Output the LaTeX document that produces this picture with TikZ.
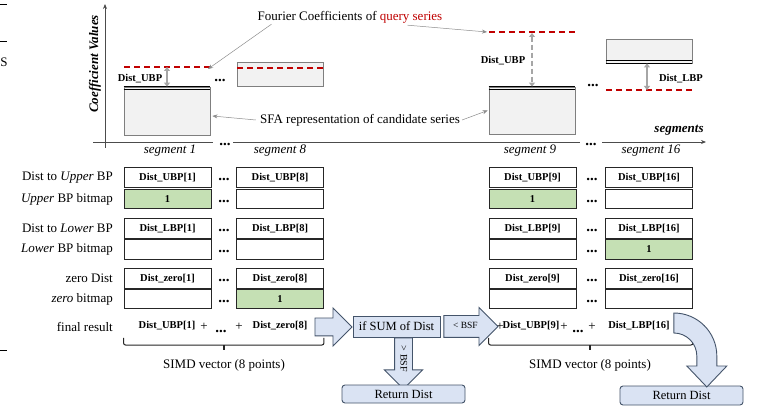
\documentclass[tikz,border=0pt]{standalone}
\usepackage{fontspec}
\setmainfont{Liberation Serif}
\usetikzlibrary{shapes.arrows,arrows.meta,calc}
\definecolor{qred}{HTML}{C00000}
\definecolor{sfafill}{HTML}{F2F2F2}
\definecolor{sfaedge}{HTML}{7F7F7F}
\definecolor{bitgreen}{HTML}{C5E0B4}
\definecolor{blfill}{HTML}{DAE3F3}
\definecolor{bledge}{HTML}{44546A}
\definecolor{arrgray}{HTML}{A6A6A6}
\begin{document}
\begin{tikzpicture}[x=1pt,y=-1pt,
  every node/.style={inner sep=0pt},
  lbl/.style={font=\fontsize{13}{15}\selectfont},
  rowlbl/.style={lbl, anchor=east},
  seglbl/.style={font=\fontsize{13}{15}\selectfont\itshape},
  cell/.style={draw=black!85, line width=0.9pt, minimum width=87pt, minimum height=19.5pt, font=\fontsize{10.5}{12}\selectfont\bfseries},
  bitcell/.style={cell, fill=bitgreen},
  dotsl/.style={font=\fontsize{15}{16}\selectfont\bfseries, anchor=base},
  small/.style={font=\fontsize{10.5}{12}\selectfont\bfseries},
  sfa/.style={draw=sfaedge, fill=sfafill, line width=0.8pt, minimum width=86pt},
  qline/.style={qred, dash pattern=on 6pt off 4pt, line width=1.6pt},
  gaparr/.style={arrgray, line width=1.6pt, {Triangle[length=4pt,width=6pt]}-{Triangle[length=4pt,width=6pt]}},
  callout/.style={black!45, line width=0.5pt, -{Stealth[length=5pt,width=4pt]}},
  axisln/.style={black!70, line width=0.8pt},
  bluebox/.style={draw=bledge, fill=blfill, line width=0.9pt},
  bracel/.style={black!85, line width=1pt, rounded corners=2pt}
]
\fill[white] (0,0) rectangle (761,406);
\useasboundingbox (0,0) rectangle (761,406);

% stray page fragments at left edge
\draw[line width=1pt] (0,5) -- (7,5);
\draw[line width=1pt] (0,42) -- (7,42);
\draw[line width=1pt] (0,350) -- (7,350);
\node[lbl] (sfrag) at (4,62) {S};

% ---------- axes ----------
\coordinate (yo) at (105,148);
\coordinate (yt) at (105,4);
\draw[axisln, -{Stealth[length=5pt,width=4pt]}] (yo) -- (yt);
\coordinate (xa) at (93,142);
\coordinate (xb) at (213,142);
\coordinate (xc) at (233,142);
\coordinate (xd) at (580,142);
\coordinate (xe) at (602,142);
\coordinate (xf) at (706,142);
\draw[axisln] (xa) -- (xb);
\draw[axisln] (xc) -- (xd);
\draw[axisln, -{Stealth[length=5pt,width=4pt]}] (xe) -- (xf);
\node[dotsl] (ad1) at (225,146) {...};
\node[dotsl] (ad2) at (591,146) {...};
\node[font=\fontsize{13}{15}\selectfont\bfseries\itshape, rotate=90] (ylab) at (95,64) {Coefficient Values};
\node[font=\fontsize{13}{15}\selectfont\bfseries\itshape] (xlab) at (679,130) {segments};
\node[seglbl] (sg1) at (170,151) {segment 1};
\node[seglbl] (sg8) at (280,151) {segment 8};
\node[seglbl] (sg9) at (530,151) {segment 9};
\node[seglbl] (sg16) at (651,151) {segment 16};

% ---------- SFA boxes ----------
\node[sfa, minimum height=48pt] (s1) at (167,111) {};
\node[sfa, minimum height=24pt] (s8) at (280,74) {};
\node[sfa, minimum height=47pt] (s9) at (532,110.5) {};
\node[sfa, minimum height=24pt] (s16) at (649,51) {};
\draw[black, line width=1.3pt] (s1.north west) -- (s1.north east);
\draw[black, line width=0.7pt] ([yshift=-2.8pt]s1.north west) -- ([yshift=-2.8pt]s1.north east);
\draw[black, line width=1.3pt] (s9.north west) -- (s9.north east);
\draw[black, line width=0.7pt] ([yshift=-2.8pt]s9.north west) -- ([yshift=-2.8pt]s9.north east);
\draw[black, line width=1.3pt] (s16.south west) -- (s16.south east);
\draw[black, line width=0.7pt] ([yshift=2.8pt]s16.south west) -- ([yshift=2.8pt]s16.south east);

% query coefficient lines
\coordinate (q1a) at (124,67); \coordinate (q1b) at (210,67);
\coordinate (q8a) at (237,68); \coordinate (q8b) at (323,68);
\coordinate (q9a) at (489,32); \coordinate (q9b) at (575,32);
\coordinate (q16a) at (606,90); \coordinate (q16b) at (692,90);
\draw[qline] (q1a) -- (q1b);
\draw[qline] (q8a) -- (q8b);
\draw[qline] (q9a) -- (q9b);
\draw[qline] (q16a) -- (q16b);

% distance arrows
\coordinate (u1) at (167,67);
\draw[gaparr] (u1) -- (u1 |- s1.north);
\node[small] (du1) at (140,79) {Dist\_UBP};
\coordinate (u9) at (532,33);
\draw[gaparr, dash pattern=on 5pt off 3pt] (u9) -- (u9 |- s9.north);
\node[small] (du9) at (503,61) {Dist\_UBP};
\coordinate (l16) at (647,90);
\draw[gaparr] (l16 |- s16.south) -- (l16);
\node[small] (dl16) at (681,79) {Dist\_LBP};

\node[dotsl] (cd1) at (220,82) {...};
\node[dotsl] (cd2) at (593,87) {...};

% callouts
\node[lbl] (fq) at (350,17) {Fourier Coefficients of \textcolor{qred}{query series}};
\draw[callout] ([xshift=14pt,yshift=-1pt]fq.south west) -- ([xshift=-2pt,yshift=-2pt]q1b);
\draw[callout] ([xshift=-35pt,yshift=-2pt]fq.south east) -- ([xshift=-2pt]q9a);
\node[lbl] (sl) at (360,120) {SFA representation of candidate series};
\draw[callout] ([xshift=-4pt]sl.west) -- ([xshift=2pt,yshift=-5pt]s1.east);
\draw[callout] ([xshift=2pt]sl.east) -- ([xshift=-1pt]s9.west);

% ---------- table ----------
\node[rowlbl] (rl1) at (113,177.5) {Dist to \textit{Upper} BP};
\node[rowlbl] (rl2) at (113,199) {\textit{Upper} BP bitmap};
\node[rowlbl] (rl3) at (113,228.5) {Dist to \textit{Lower} BP};
\node[rowlbl] (rl4) at (113,249.5) {\textit{Lower} BP bitmap};
\node[rowlbl] (rl5) at (113,278.5) {zero Dist};
\node[rowlbl] (rl6) at (113,299) {\textit{zero} bitmap};
\node[rowlbl] (rl7) at (113,327) {final result};

\node[cell] (c11) at (167.5,177.5) {Dist\_UBP[1]};
\node[cell] (c12) at (280,177.5) {Dist\_UBP[8]};
\node[cell] (c13) at (532.5,177.5) {Dist\_UBP[9]};
\node[cell] (c14) at (649,177.5) {Dist\_UBP[16]};
\node[bitcell] (c21) at (167.5,199) {1};
\node[cell] (c22) at (280,199) {};
\node[bitcell] (c23) at (532.5,199) {1};
\node[cell] (c24) at (649,199) {};
\node[cell] (c31) at (167.5,228.5) {Dist\_LBP[1]};
\node[cell] (c32) at (280,228.5) {Dist\_LBP[8]};
\node[cell] (c33) at (532.5,228.5) {Dist\_LBP[9]};
\node[cell] (c34) at (649,228.5) {Dist\_LBP[16]};
\node[cell] (c41) at (167.5,249.5) {};
\node[cell] (c42) at (280,249.5) {};
\node[cell] (c43) at (532.5,249.5) {};
\node[bitcell] (c44) at (649,249.5) {1};
\node[cell] (c51) at (167.5,278.5) {Dist\_zero[1]};
\node[cell] (c52) at (280,278.5) {Dist\_zero[8]};
\node[cell] (c53) at (532.5,278.5) {Dist\_zero[9]};
\node[cell] (c54) at (649,278.5) {Dist\_zero[16]};
\node[cell] (c61) at (167.5,299) {};
\node[bitcell] (c62) at (280,299) {1};
\node[cell] (c63) at (532.5,299) {};
\node[cell] (c64) at (649,299) {};

\foreach \r/\yy in {1/181,2/203,3/232,4/253,5/282,6/303}{
  \node[dotsl] (dl\r) at (224,\yy) {...};
  \node[dotsl] (dr\r) at (592,\yy) {...};
}

% final result row
\node[small] (f1) at (167,326) {Dist\_UBP[1]};
\node[lbl] (fp1) at (204,327) {+};
\node[dotsl] (fd1) at (221,332) {...};
\node[lbl] (fp2) at (239,327) {+};
\node[small] (f8) at (280,326) {Dist\_zero[8]};
\node[lbl] (fp3) at (500,327) {+};
\node[small] (f9) at (531,326) {Dist\_UBP[9]};
\node[lbl] (fp4) at (564,327) {+};
\node[dotsl] (fd2) at (578,332) {...};
\node[lbl] (fp5) at (592,327) {+};
\node[small] (f16) at (639,326) {Dist\_LBP[16]};

% braces
\coordinate (byt) at (0,338);
\coordinate (byb) at (0,345);
\coordinate (byk) at (0,350);
\draw[bracel] (c61.west |- byt) -- (c61.west |- byb) -- (c62.east |- byb) -- (c62.east |- byt);
\coordinate (bm1) at (224,345);
\draw[black!85, line width=1.4pt] (bm1) -- (bm1 |- byk);
\draw[bracel] (c63.west |- byt) -- (c63.west |- byb) -- (c64.east |- byb) -- (c64.east |- byt);
\coordinate (bm2) at (590,345);
\draw[black!85, line width=1.4pt] (bm2) -- (bm2 |- byk);
\node[lbl] (simd1) at (224,365) {SIMD vector (8 points)};
\node[lbl] (simd2) at (590,365) {SIMD vector (8 points)};

% ---------- flow ----------
\node[bluebox, minimum width=87pt, minimum height=21pt, font=\fontsize{12.5}{14}\selectfont] (sum) at (396.5,326.5) {if SUM of Dist};
\node[bluebox, single arrow, single arrow head extend=10pt, minimum height=37pt,
      text height=0pt, text depth=0pt, inner ysep=8.5pt, inner xsep=0pt, anchor=tail]
      (a1) at ($(f8.east)+(7,1)$) {};
\node[bluebox, single arrow, single arrow head extend=8pt, minimum height=54pt,
      text height=6pt, text depth=1pt, inner ysep=7pt, inner xsep=2pt, anchor=tail,
      font=\fontsize{9.5}{11}\selectfont]
      (a2) at ($(sum.east)+(3,0)$) {\textless\ BSF};
\node[bluebox, single arrow, single arrow head extend=10pt, minimum height=51pt,
      text height=6.5pt, text depth=0.5pt, inner ysep=5pt, inner xsep=2pt, anchor=tail,
      rotate=-90, font=\fontsize{10}{11}\selectfont]
      (a3) at ($(sum.south)+(7,0)$) {\textgreater\ BSF};
\node[bluebox, rounded corners=3pt, minimum width=123pt, minimum height=18pt, font=\fontsize{12.5}{14}\selectfont] (ret1) at (403.5,394) {Return Dist};
\node[bluebox, rounded corners=3pt, minimum width=123pt, minimum height=19pt, font=\fontsize{12.5}{14}\selectfont] (ret2) at (681.5,395.5) {Return Dist};

\coordinate (ca) at ($(f16.east)+(4,-13)$);
\draw[bluebox] (ca) arc[start angle=-90, end angle=0, radius=43]
  -- ++(0,10) -- ++(10,0) -- ++(-20,21) -- ++(-20,-21) -- ++(10,0) -- ++(0,-10)
  arc[start angle=0, end angle=-90, radius=23] -- cycle;
\end{tikzpicture}
\end{document}
